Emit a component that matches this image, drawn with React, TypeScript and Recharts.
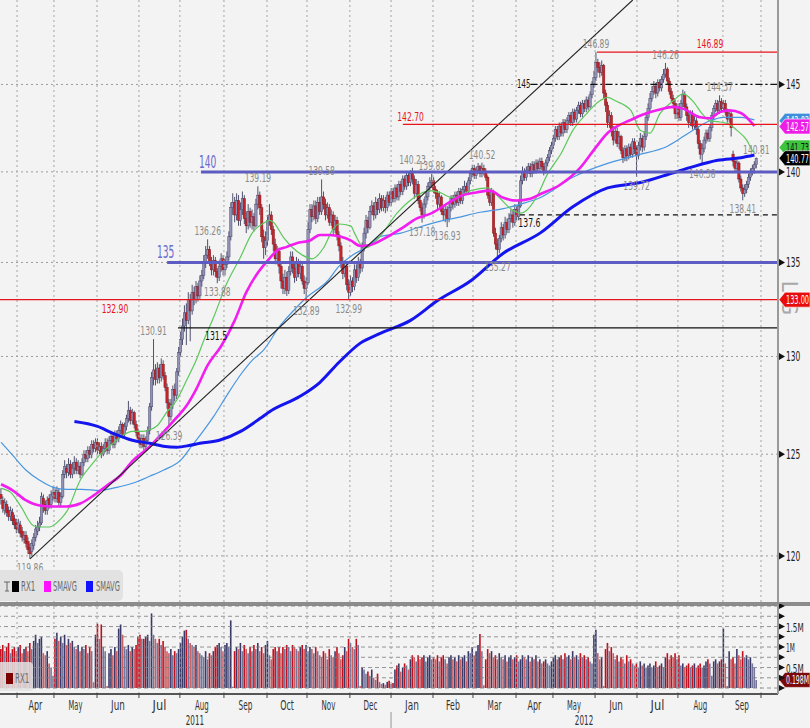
import React from "react";
import {
  ComposedChart,
  Bar,
  Line,
  XAxis,
  YAxis,
  ReferenceLine,
  ReferenceDot,
  Cell,
} from "recharts";

const FONT = '"Liberation Sans Narrow", "Arial Narrow", "DejaVu Sans Condensed", "Liberation Sans", sans-serif';

const W = 810;
const AXIS_W = 32;
const PLOT_R = W - AXIS_W;
const X_MIN = -0.52;
const X_MAX = 402.2;
const PX = PLOT_R / (X_MAX - X_MIN);

// squeeze text to the condensed look of the terminal font
const tl = (s: string, size: number) => s.length * size * 0.34;

// RX1 daily bars (Euro-Bund), Mar 2011 - Sep 2012
const opens = [
  123.0, 122.7, 122.2, 122.5, 122.2, 121.9, 122.1, 121.8, 121.6, 121.3,
  121.5, 121.2, 120.8, 121.0, 120.7, 120.4, 120.2, 120.5, 120.9, 121.2,
  121.4, 121.6, 122.8, 122.5, 122.2, 122.8, 122.5, 122.9, 123.1, 122.8,
  123.1, 122.6, 122.9, 124.0, 124.3, 124.1, 124.5, 124.0, 124.3, 124.6,
  124.2, 124.4, 124.0, 124.6, 125.0, 124.8, 125.2, 125.0, 125.5, 125.3,
  125.6, 125.2, 125.4, 125.0, 125.3, 125.6, 125.2, 125.7, 125.9, 125.5,
  126.0, 125.8, 126.2, 126.5, 126.0, 126.4, 126.8, 127.2, 126.7, 127.1,
  126.5, 126.1, 125.8, 125.5, 125.8, 125.4, 125.7, 126.2, 127.4, 128.9,
  129.3, 128.8, 129.4, 128.9, 129.6, 129.0, 128.4, 127.6, 126.9, 127.5,
  128.3, 128.0, 129.2, 130.2, 130.9, 131.6, 132.3, 131.9, 133.0, 132.4,
  133.4, 133.0, 133.7, 133.2, 134.0, 134.3, 135.0, 135.4, 135.7, 135.0,
  134.6, 135.1, 134.5, 134.2, 134.8, 135.2, 134.6, 134.9, 135.3, 136.4,
  138.0, 138.3, 137.6, 138.4, 137.3, 137.9, 138.5, 137.4, 137.0, 137.8,
  137.2, 137.5, 137.0, 138.2, 138.7, 138.0, 136.4, 135.8, 136.2, 137.3,
  137.6, 136.8, 136.0, 135.2, 135.6, 134.8, 134.0, 133.6, 134.2, 133.5,
  134.5, 135.3, 134.7, 134.2, 135.0, 134.4, 134.8, 134.0, 133.6, 133.9,
  136.8, 137.9, 137.5, 138.1, 137.4, 138.3, 137.8, 138.6, 138.2, 137.6,
  138.0, 137.2, 137.6, 136.8, 137.3, 136.5, 135.9, 135.0, 134.4, 134.8,
  133.8, 133.4, 134.0, 133.7, 134.6, 134.2, 135.0, 134.7, 135.8, 136.6,
  137.3, 136.9, 137.8, 138.1, 137.6, 138.3, 137.9, 138.5, 138.0, 138.4,
  138.0, 138.7, 138.3, 138.9, 138.5, 139.1, 138.6, 139.3, 138.9, 139.6,
  139.2, 139.8, 139.4, 139.9, 139.6, 138.8, 139.3, 138.4, 138.0, 137.6,
  138.2, 138.6, 139.2, 139.4, 139.5, 139.0, 138.8, 138.2, 138.6, 137.8,
  137.6, 137.9, 137.4, 138.0, 138.5, 138.2, 138.7, 138.3, 138.9, 138.4,
  139.0, 139.2, 138.9, 139.5, 139.9, 140.2, 139.8, 140.1, 140.3, 139.9,
  140.2, 140.0, 139.7, 138.7, 138.3, 138.9, 136.6, 136.0, 135.7, 136.3,
  136.9, 136.5, 137.2, 136.8, 137.4, 137.6, 137.2, 137.9, 137.5, 138.1,
  139.5, 140.0, 139.7, 140.1, 140.3, 139.9, 140.4, 140.1, 140.5, 140.2,
  140.6, 140.3, 140.0, 140.5, 140.8, 141.2, 141.5, 141.9, 142.4, 142.0,
  142.6, 142.2, 142.8, 142.4, 142.9, 143.2, 142.8, 143.4, 143.0, 143.5,
  143.8, 143.3, 143.9, 143.6, 144.1, 143.7, 144.4, 145.0, 145.4, 146.3,
  146.0, 145.7, 146.1, 144.5, 143.8, 142.8, 143.2, 142.3, 141.8, 142.3,
  141.6, 142.0, 141.2, 140.8, 141.3, 140.9, 141.4, 141.0, 141.7, 141.3,
  140.9, 141.5, 141.9, 141.4, 142.0, 143.1, 143.6, 144.2, 144.6, 144.9,
  144.5, 145.1, 144.8, 145.3, 145.6, 145.9, 145.2, 144.6, 144.2, 143.9,
  143.3, 143.7, 143.1, 143.9, 144.4, 143.7, 143.2, 142.8, 143.3, 142.6,
  142.9, 142.4, 141.6, 141.0, 141.3, 141.8, 142.2, 141.9, 142.5, 143.2,
  143.6, 143.9, 143.5, 144.0, 143.6, 143.9, 143.4, 143.0, 143.3, 141.0,
  140.6, 140.2, 140.5, 139.6, 139.1, 138.8, 139.0, 139.3, 139.7, 140.0,
  140.2, 140.4,
];

const highs = [
  123.3, 122.9, 122.8, 122.7, 122.4, 122.4, 122.3, 122.0, 121.8, 121.8,
  121.7, 121.4, 121.2, 121.2, 120.9, 120.6, 120.8, 121.1, 121.5, 121.7,
  121.9, 123.1, 123.0, 122.7, 122.9, 123.0, 123.2, 123.4, 123.3, 123.4,
  123.3, 123.1, 124.2, 124.7, 124.5, 124.8, 124.7, 124.6, 124.9, 124.8,
  124.7, 124.6, 124.8, 125.2, 125.2, 125.4, 125.4, 125.7, 125.7, 125.8,
  125.8, 125.6, 125.6, 125.5, 125.8, 125.8, 125.9, 126.1, 126.1, 126.2,
  126.2, 126.4, 126.7, 126.6, 126.6, 127.0, 127.7, 127.4, 127.3, 127.2,
  126.7, 126.3, 126.0, 126.0, 126.0, 125.9, 126.4, 127.6, 129.2, 130.91,
  129.6, 129.7, 129.6, 129.9, 129.8, 129.2, 128.6, 127.8, 127.8, 128.5,
  128.6, 129.4, 130.5, 131.3, 132.0, 132.7, 132.8, 133.4, 133.3, 133.8,
  133.7, 134.0, 133.9, 134.3, 134.6, 135.4, 135.9, 136.26, 135.9, 135.3,
  135.4, 135.3, 134.7, 135.1, 135.5, 135.4, 135.2, 135.6, 136.7, 138.3,
  138.8, 138.6, 138.8, 138.7, 138.3, 138.9, 138.7, 137.8, 138.2, 138.0,
  137.9, 137.7, 138.5, 139.19, 138.9, 138.2, 136.8, 136.7, 137.6, 138.2,
  137.8, 137.0, 136.3, 135.9, 135.8, 135.0, 134.4, 134.6, 134.5, 134.8,
  135.6, 135.6, 135.0, 135.3, 135.2, 135.1, 135.0, 134.3, 134.2, 137.2,
  138.2, 138.2, 138.4, 138.4, 138.6, 138.6, 139.58, 138.9, 138.5, 138.3,
  138.2, 137.9, 137.8, 137.6, 137.5, 136.7, 136.1, 135.3, 135.1, 135.0,
  134.1, 134.3, 134.2, 134.9, 134.9, 135.3, 135.2, 136.1, 136.9, 137.6,
  137.5, 138.1, 138.4, 138.3, 138.6, 138.5, 138.8, 138.7, 138.7, 138.6,
  138.9, 138.9, 139.1, 139.1, 139.3, 139.3, 139.5, 139.5, 139.8, 139.8,
  140.0, 140.0, 140.1, 140.23, 139.8, 139.6, 139.5, 138.7, 138.3, 138.5,
  138.9, 139.4, 139.7, 139.89, 139.7, 139.2, 139.0, 138.9, 138.7, 138.1,
  138.2, 138.1, 138.3, 138.7, 138.7, 138.9, 138.9, 139.1, 139.1, 139.2,
  139.5, 139.4, 139.7, 140.1, 140.4, 140.4, 140.3, 140.5, 140.4, 140.52,
  140.4, 140.2, 139.8, 138.9, 139.1, 139.0, 136.9, 136.3, 136.5, 137.2,
  137.1, 137.5, 137.4, 137.7, 137.9, 137.9, 138.2, 138.1, 138.4, 139.8,
  140.3, 140.2, 140.3, 140.5, 140.5, 140.6, 140.6, 140.7, 140.7, 140.8,
  140.8, 140.5, 140.7, 141.0, 141.4, 141.7, 142.1, 142.6, 142.6, 142.8,
  142.8, 143.0, 143.0, 143.1, 143.4, 143.4, 143.6, 143.6, 143.7, 144.0,
  144.0, 144.1, 144.1, 144.3, 144.3, 144.6, 145.2, 145.8, 146.89, 146.5,
  146.3, 146.4, 146.2, 144.7, 144.0, 143.5, 143.4, 142.6, 142.6, 142.5,
  142.3, 142.1, 141.4, 141.5, 141.5, 141.6, 141.6, 141.9, 141.9, 141.5,
  141.7, 142.2, 142.1, 142.3, 143.4, 143.9, 144.5, 144.9, 145.2, 145.1,
  145.3, 145.3, 145.5, 145.9, 146.26, 146.0, 145.4, 144.8, 144.4, 144.1,
  143.9, 143.9, 144.1, 144.7, 144.6, 143.9, 143.4, 143.5, 143.5, 143.2,
  143.1, 142.6, 141.8, 141.6, 142.0, 142.4, 142.4, 142.7, 143.4, 143.8,
  144.1, 144.1, 144.37, 144.2, 144.1, 144.1, 143.6, 143.5, 143.5, 141.2,
  140.8, 140.7, 140.6, 139.8, 139.3, 139.3, 139.5, 139.9, 140.2, 140.4,
  140.6, 140.81,
];

const lows = [
  122.5, 122.1, 122.0, 121.9, 121.7, 121.7, 121.5, 121.3, 121.1, 121.1,
  120.9, 120.7, 120.6, 120.4, 120.1, 119.86, 120.0, 120.3, 120.7, 121.0,
  121.2, 121.5, 122.1, 122.0, 122.0, 122.3, 122.3, 122.7, 122.6, 122.6,
  122.4, 122.4, 122.8, 123.8, 123.8, 123.9, 123.8, 123.8, 124.0, 124.0,
  124.0, 123.8, 123.9, 124.4, 124.6, 124.6, 124.8, 124.8, 125.1, 125.1,
  125.0, 125.0, 124.8, 124.9, 125.1, 125.0, 125.0, 125.5, 125.3, 125.3,
  125.6, 125.6, 126.0, 125.8, 125.8, 126.2, 126.6, 126.5, 126.5, 126.3,
  125.9, 125.6, 125.3, 125.3, 125.2, 125.2, 125.5, 126.0, 127.2, 128.5,
  128.5, 128.6, 128.6, 128.7, 128.8, 128.2, 127.3, 126.39, 126.7, 127.3,
  127.7, 127.8, 129.0, 130.0, 130.6, 131.3, 130.6, 131.7, 130.8, 132.2,
  132.7, 132.8, 132.9, 133.0, 133.7, 134.1, 134.7, 135.2, 134.8, 134.3,
  134.3, 134.2, 133.88, 134.0, 134.5, 134.3, 134.3, 134.7, 135.1, 136.2,
  137.6, 137.2, 137.3, 137.0, 137.0, 137.6, 137.1, 136.6, 136.8, 136.9,
  136.8, 136.7, 136.9, 137.9, 137.6, 136.1, 135.2, 135.4, 135.9, 137.0,
  136.5, 135.6, 134.9, 134.9, 134.4, 133.6, 133.3, 133.3, 133.2, 133.3,
  134.3, 134.4, 133.9, 134.0, 134.2, 134.1, 133.8, 133.3, 132.89, 133.8,
  136.6, 137.2, 137.3, 137.1, 137.2, 137.6, 137.6, 137.9, 137.3, 137.4,
  137.0, 137.0, 136.5, 136.6, 136.2, 135.6, 134.7, 134.1, 134.2, 133.5,
  132.99, 133.2, 133.4, 133.5, 133.9, 134.0, 134.4, 134.5, 135.6, 136.3,
  136.6, 136.8, 137.6, 137.3, 137.4, 137.6, 137.7, 137.8, 137.8, 137.7,
  137.8, 138.1, 138.1, 138.3, 138.3, 138.4, 138.4, 138.7, 138.7, 139.0,
  139.0, 139.2, 139.2, 139.3, 138.5, 138.6, 138.2, 137.8, 137.18, 137.4,
  138.0, 138.4, 138.9, 139.1, 138.8, 138.5, 137.9, 138.0, 137.6, 137.3,
  137.2, 136.93, 137.2, 137.8, 137.9, 138.0, 138.1, 138.1, 138.2, 138.2,
  138.8, 138.7, 138.7, 139.3, 139.7, 139.6, 139.6, 139.9, 139.7, 139.7,
  139.8, 139.5, 138.5, 138.1, 138.1, 136.4, 135.7, 135.27, 135.5, 136.1,
  136.2, 136.3, 136.6, 136.6, 137.2, 136.9, 137.0, 137.3, 137.3, 138.0,
  139.3, 139.5, 139.5, 139.9, 139.7, 139.7, 139.9, 139.9, 140.0, 140.0,
  140.1, 139.8, 139.9, 140.3, 140.6, 141.0, 141.3, 141.7, 141.8, 141.8,
  142.0, 142.0, 142.2, 142.2, 142.7, 142.6, 142.6, 142.8, 142.8, 143.3,
  143.1, 143.1, 143.4, 143.4, 143.5, 143.6, 144.2, 144.8, 145.2, 145.7,
  145.4, 145.5, 144.2, 143.4, 142.5, 142.5, 142.0, 141.5, 141.6, 141.4,
  141.3, 141.0, 140.5, 140.6, 140.6, 140.7, 140.8, 140.8, 141.0, 139.72,
  140.7, 141.2, 141.1, 141.2, 141.8, 142.9, 143.4, 144.0, 144.4, 144.2,
  144.3, 144.6, 144.6, 145.1, 145.4, 145.0, 144.4, 144.0, 143.6, 143.0,
  143.0, 142.9, 142.9, 143.7, 143.5, 142.9, 142.5, 142.6, 142.4, 142.4,
  142.1, 141.3, 140.7, 140.38, 141.1, 141.6, 141.7, 141.7, 142.3, 143.0,
  143.4, 143.3, 143.3, 143.4, 143.4, 143.2, 142.8, 142.8, 142.0, 140.3,
  140.0, 140.0, 139.4, 138.9, 138.41, 138.6, 138.8, 139.1, 139.5, 139.8,
  139.9, 140.2,
];

const closes = [
  122.8, 122.3, 122.6, 122.1, 121.9, 122.2, 121.7, 121.5, 121.3, 121.6,
  121.1, 120.9, 121.0, 120.6, 120.3, 120.1, 120.6, 120.9, 121.3, 121.4,
  121.6, 122.9, 122.4, 122.2, 122.7, 122.5, 123.0, 123.1, 122.8, 123.2,
  122.6, 122.9, 124.0, 124.4, 124.1, 124.5, 124.0, 124.3, 124.6, 124.2,
  124.4, 124.0, 124.6, 125.0, 124.8, 125.2, 125.0, 125.5, 125.3, 125.6,
  125.2, 125.4, 125.0, 125.3, 125.6, 125.2, 125.7, 125.9, 125.5, 126.0,
  125.8, 126.2, 126.5, 126.0, 126.4, 126.8, 127.2, 126.7, 127.1, 126.5,
  126.1, 125.8, 125.5, 125.8, 125.4, 125.7, 126.2, 127.4, 128.9, 129.3,
  128.8, 129.4, 128.9, 129.6, 129.0, 128.4, 127.6, 126.9, 127.5, 128.3,
  128.0, 129.2, 130.2, 130.9, 131.6, 132.3, 131.9, 133.0, 132.4, 133.4,
  133.0, 133.7, 133.2, 134.0, 134.3, 135.0, 135.4, 135.7, 135.0, 134.6,
  135.1, 134.5, 134.2, 134.8, 135.2, 134.6, 134.9, 135.3, 136.4, 138.0,
  138.3, 137.6, 138.4, 137.3, 137.9, 138.5, 137.4, 137.0, 137.8, 137.2,
  137.5, 137.0, 138.2, 138.7, 138.0, 136.4, 135.8, 136.2, 137.3, 137.6,
  136.8, 136.0, 135.2, 135.6, 134.8, 134.0, 133.6, 134.2, 133.5, 134.5,
  135.3, 134.7, 134.2, 135.0, 134.4, 134.8, 134.0, 133.6, 133.9, 136.8,
  137.9, 137.5, 138.1, 137.4, 138.3, 137.8, 138.6, 138.2, 137.6, 138.0,
  137.2, 137.6, 136.8, 137.3, 136.5, 135.9, 135.0, 134.4, 134.8, 133.8,
  133.4, 134.0, 133.7, 134.6, 134.2, 135.0, 134.7, 135.8, 136.6, 137.3,
  136.9, 137.8, 138.1, 137.6, 138.3, 137.9, 138.5, 138.0, 138.4, 138.0,
  138.7, 138.3, 138.9, 138.5, 139.1, 138.6, 139.3, 138.9, 139.6, 139.2,
  139.8, 139.4, 139.9, 139.6, 138.8, 139.3, 138.4, 138.0, 137.6, 138.2,
  138.6, 139.2, 139.4, 139.5, 139.0, 138.8, 138.2, 138.6, 137.8, 137.6,
  137.9, 137.4, 138.0, 138.5, 138.2, 138.7, 138.3, 138.9, 138.4, 139.0,
  139.2, 138.9, 139.5, 139.9, 140.2, 139.8, 140.1, 140.3, 139.9, 140.2,
  140.0, 139.7, 138.7, 138.3, 138.9, 136.6, 136.0, 135.7, 136.3, 136.9,
  136.5, 137.2, 136.8, 137.4, 137.6, 137.2, 137.9, 137.5, 138.1, 139.5,
  140.0, 139.7, 140.1, 140.3, 139.9, 140.4, 140.1, 140.5, 140.2, 140.6,
  140.3, 140.0, 140.5, 140.8, 141.2, 141.5, 141.9, 142.4, 142.0, 142.6,
  142.2, 142.8, 142.4, 142.9, 143.2, 142.8, 143.4, 143.0, 143.5, 143.8,
  143.3, 143.9, 143.6, 144.1, 143.7, 144.4, 145.0, 145.4, 146.3, 146.0,
  145.7, 146.1, 144.5, 143.8, 142.8, 143.2, 142.3, 141.8, 142.3, 141.6,
  142.0, 141.2, 140.8, 141.3, 140.9, 141.4, 141.0, 141.7, 141.3, 140.9,
  141.5, 141.9, 141.4, 142.0, 143.1, 143.6, 144.2, 144.6, 144.9, 144.5,
  145.1, 144.8, 145.3, 145.6, 145.9, 145.2, 144.6, 144.2, 143.9, 143.3,
  143.7, 143.1, 143.9, 144.4, 143.7, 143.2, 142.8, 143.3, 142.6, 142.9,
  142.4, 141.6, 141.0, 141.3, 141.8, 142.2, 141.9, 142.5, 143.2, 143.6,
  143.9, 143.5, 144.0, 143.6, 143.9, 143.4, 143.0, 143.3, 142.5, 140.6,
  140.2, 140.5, 139.6, 139.1, 138.8, 139.0, 139.3, 139.7, 140.0, 140.2,
  140.4, 140.77,
];

// volume, millions of contracts
const volumes = [
  0.95, 1.05, 0.9, 1.0, 1.1, 0.85, 0.95, 1.0, 0.9,
  1.0, 1.05, 0.85, 0.95, 1.0, 0.9, 1.1, 0.95,
  1.15, 1.3, 1.1, 1.2, 1.25, 0.85,
  0.8, 0.9, 0.6, 0.5, 0.3,
  1.2, 1.35, 1.15, 1.25, 1.1, 1.3, 1.05, 1.2, 1.1, 1.15, 1.0,
  0.95, 1.05, 0.9, 1.0, 0.95, 1.05, 0.85, 1.0, 0.9, 0.14,
  1.3, 1.57, 1.2, 1.55, 1.0, 0.9,
  0.05, 0.85, 0.95, 0.8, 1.0, 0.9,
  1.45, 1.55, 1.3,
  1.0, 0.95, 1.05, 0.9, 1.0, 0.95, 1.05,
  1.25, 1.3, 1.2,
  1.2, 1.25, 1.3, 1.15, 1.82, 1.3, 1.2,
  1.1, 1.2, 1.05, 1.15, 1.0, 0.9,
  0.85, 0.95, 0.8, 0.9, 0.85, 0.95, 1.1,
  1.25, 1.4, 1.42, 1.2, 1.1,
  1.05, 1.0, 1.05, 0.9, 0.85,
  0.8, 0.75, 0.9, 0.7, 0.85, 0.8, 0.9, 1.0,
  1.05, 1.1, 1.0, 0.9, 1.05, 1.1, 1.0, 1.65,
  0.03,
  0.9, 1.0, 0.95, 1.1, 0.9, 1.05, 0.95, 0.85, 1.0, 0.9, 1.05, 0.95, 1.1, 0.9, 1.0, 0.85, 1.05, 1.15,
  0.8, 0.7, 0.95, 1.0, 0.9, 1.0, 0.85,
  1.0, 0.95, 1.05, 1.0, 0.9, 1.05, 1.0, 0.95, 0.9, 1.0, 1.05, 0.95,
  1.05, 0.9, 1.0, 0.95, 0.85, 1.0, 0.9, 0.8, 0.75,
  0.9, 0.85, 0.7, 0.95, 0.8, 0.75, 0.9, 1.0, 0.85, 0.7, 0.8,
  1.0, 0.9, 1.2, 1.1, 1.0, 0.95, 1.2, 1.05,
  0.05,
  0.5, 0.45, 0.35, 0.4, 0.3, 0.45, 0.25, 0.2, 0.35,
  0.15, 0.1, 0.12, 0.08, 0.15, 0.18, 0.1, 0.12,
  0.45, 0.55, 0.6, 0.4, 0.5, 0.6, 0.55, 0.45,
  0.7, 0.8, 0.75, 0.65, 0.8, 0.7, 0.75, 0.8, 0.65, 0.75, 0.8, 0.7,
  0.75, 0.7, 0.8, 0.65, 0.75, 0.8, 0.7, 0.6, 0.75, 0.8, 0.7,
  0.75, 0.65, 0.8, 0.7, 0.75, 0.8, 0.65, 0.9, 0.85,
  1.0, 0.8, 0.9, 1.05, 1.32,
  0.9, 0.07,
  0.7, 0.95, 0.85, 0.9, 0.75, 0.8, 0.7, 0.85,
  0.75, 0.7, 0.8, 0.65, 0.75, 0.8, 0.7, 0.75, 0.8, 0.65, 0.7, 0.8, 0.75, 0.7, 0.8, 0.65, 0.75, 0.7, 0.8,
  0.65, 0.7, 0.6, 0.65, 0.7, 0.6, 0.55, 0.65,
  0.75, 0.8, 0.7, 0.75, 0.8, 0.7, 0.85, 0.75, 0.8, 0.7, 0.9,
  0.75, 0.8, 0.7, 0.85, 0.75, 0.8, 0.7, 0.75,
  0.65, 0.6,
  1.3, 1.42,
  0.85, 0.7, 0.75,
  0.05,
  0.95, 1.1, 0.9, 1.0, 0.85,
  0.7, 0.8, 0.65, 0.75, 0.7, 0.6, 0.8, 0.65, 0.7, 0.6,
  0.55, 0.6, 0.5, 0.65, 0.55, 0.6, 0.5, 0.55, 0.6, 0.5, 0.55, 0.65, 0.5, 0.55, 0.6, 0.5,
  0.75, 0.85, 0.7, 0.8, 0.75, 0.85, 0.7, 0.8,
  0.55, 0.6, 0.5, 0.55, 0.6, 0.5, 0.55, 0.6, 0.5, 0.55, 0.6, 0.5, 0.55,
  0.65, 0.7, 0.6, 0.3, 0.65, 0.7, 0.6, 0.65, 0.7,
  1.45, 0.6, 0.05,
  0.9, 0.7, 0.75, 0.6, 0.95, 0.8, 0.7, 0.9, 0.75, 0.8, 0.7, 0.75, 0.6,
  0.5, 0.198,
];

// moving averages as [bar, value]
const smaGreen: [number, number][] = [
  [0, 123.3], [5, 123.1], [10, 122.45], [17, 121.45], [20, 121.4], [25, 121.4], [31, 121.8],
  [34, 122.15], [41, 123.7], [48, 124.6], [51, 124.95], [58, 125.55], [63, 125.95], [68, 126.15],
  [73, 126.15], [76, 126.2], [81, 126.45], [86, 127.15], [91, 127.75], [96, 128.75], [101, 129.8],
  [105, 130.85], [110, 132.05], [117, 133.9], [124, 135.3], [130, 136.6], [136, 137.15], [139, 137.3],
  [141, 137.2], [146, 136.4], [151, 135.8], [156, 135.4], [161, 135.2], [167, 135.8], [172, 136.85],
  [175, 137.1], [181, 137.0], [183, 136.6], [186, 136.0], [189, 135.8], [196, 136.4], [205, 137.7],
  [213, 138.5], [222, 138.95], [227, 138.85], [234, 138.55], [243, 138.95], [252, 139.1], [258, 138.55],
  [265, 137.85], [269, 137.7], [272, 137.85], [277, 138.55], [283, 139.9], [290, 141.05], [296, 142.35],
  [303, 143.3], [310, 144.05], [314, 144.25], [318, 144.05], [326, 143.5], [331, 142.35], [336, 142.2],
  [341, 143.3], [348, 144.05], [353, 144.45], [358, 144.05], [363, 143.3], [367, 142.9], [371, 142.85],
  [376, 142.75], [381, 142.35], [386, 141.8], [389, 141.2], [390, 141.1],
];

const smaMagenta: [number, number][] = [
  [0, 123.5], [6, 123.2], [13, 122.7], [20, 122.45], [27, 122.4], [34, 122.4], [41, 122.55],
  [48, 122.95], [55, 123.45], [62, 123.95], [68, 124.65], [76, 125.3], [82, 125.9], [89, 126.65],
  [96, 127.45], [101, 128.3], [107, 129.55], [114, 130.55], [121, 131.9], [127, 133.4], [132, 134.3],
  [138, 135.1], [143, 135.65], [148, 135.85], [153, 136.05], [160, 136.2], [165, 136.5], [170, 136.5],
  [176, 136.4], [181, 136.2], [186, 135.9], [191, 135.95], [200, 136.4], [208, 136.9], [215, 137.4],
  [223, 137.7], [232, 138.3], [239, 138.7], [246, 138.85], [253, 138.95], [260, 138.55], [267, 138.4],
  [274, 138.5], [279, 138.75], [289, 139.25], [300, 140.25], [308, 141.4], [314, 142.2], [320, 142.65],
  [325, 142.9], [332, 143.25], [341, 143.55], [348, 143.7], [353, 143.6], [362, 143.1], [367, 143.05],
  [372, 143.4], [377, 143.5], [383, 143.35], [390, 142.6],
];

const smaLightBlue: [number, number][] = [
  [0, 125.6], [6, 124.95], [13, 124.2], [20, 123.7], [27, 123.35], [34, 123.25], [42, 123.25],
  [51, 123.2], [60, 123.35], [68, 123.55], [77, 123.9], [84, 124.2], [93, 124.7], [99, 125.45],
  [103, 125.95], [110, 126.9], [117, 128.0], [124, 129.05], [130, 129.8], [136, 130.35], [144, 131.55],
  [151, 132.37], [158, 133.1], [169, 134.0], [175, 134.8], [182, 135.4], [191, 135.95], [196, 136.4],
  [207, 136.6], [217, 136.95], [227, 137.25], [236, 137.45], [248, 137.75], [260, 137.95], [269, 138.2],
  [279, 138.55], [296, 139.7], [314, 140.48], [329, 140.93], [345, 141.45], [358, 142.35], [367, 142.9],
  [374, 143.1], [383, 143.1], [390, 142.95],
];

const smaBlue: [number, number][] = [
  [38, 126.65], [50, 126.4], [58, 126.05], [68, 125.7], [77, 125.55], [84, 125.4], [91, 125.35],
  [98, 125.45], [103, 125.55], [113, 125.7], [124, 126.15], [134, 126.8], [139, 127.15], [155, 127.95],
  [165, 128.65], [175, 129.7], [186, 130.7], [196, 131.2], [212, 131.9], [226, 132.95], [243, 134.0],
  [260, 135.5], [279, 136.6], [296, 138.05], [314, 139.1], [331, 139.4], [348, 139.95], [357, 140.25],
  [371, 140.65], [383, 140.8], [390, 140.95],
];

const monthStarts = [8.3, 27.4, 49.7, 71.4, 92.6, 115.4, 137.7, 158.4, 180.6, 201.9, 223.6, 244.3, 266.6, 285.7, 307.5, 329.2, 350.4, 373.7, 393.4];
const monthLabels = ["Apr", "May", "Jun", "Jul", "Aug", "Sep", "Oct", "Nov", "Dec", "Jan", "Feb", "Mar", "Apr", "May", "Jun", "Jul", "Aug", "Sep"];
const yearLabels = ["2011", "2012"];
const yearCenters = [100.4, 301.8];
const yearBreak = 201.9;

const priceTicks = [120, 125, 130, 135, 140, 145];
const volTicks = [0, 0.25, 0.5, 0.75, 1, 1.25, 1.5, 1.75, 2];
const volLabels: Record<number, string> = { 0.5: "0.5M", 1: "1M", 1.5: "1.5M" };

const peaks = [
  { i: 15, p: 119.86, t: "119.86", below: true },
  { i: 79, p: 130.91, t: "130.91", below: false },
  { i: 87, p: 126.39, t: "126.39", below: true },
  { i: 107, p: 136.26, t: "136.26", below: false },
  { i: 112, p: 133.88, t: "133.88", below: true },
  { i: 133, p: 139.19, t: "139.19", below: false },
  { i: 158, p: 132.89, t: "132.89", below: true },
  { i: 166, p: 139.58, t: "139.58", below: false },
  { i: 180, p: 132.99, t: "132.99", below: true },
  { i: 213, p: 140.23, t: "140.23", below: false },
  { i: 218, p: 137.18, t: "137.18", below: true },
  { i: 223, p: 139.89, t: "139.89", below: false },
  { i: 231, p: 136.93, t: "136.93", below: true },
  { i: 249, p: 140.52, t: "140.52", below: false },
  { i: 257, p: 135.27, t: "135.27", below: true },
  { i: 308, p: 146.89, t: "146.89", below: false },
  { i: 329, p: 139.72, t: "139.72", below: true },
  { i: 344, p: 146.26, t: "146.26", below: false },
  { i: 363, p: 140.38, t: "140.38", below: true },
  { i: 372, p: 144.37, t: "144.37", below: false },
  { i: 384, p: 138.41, t: "138.41", below: true },
  { i: 391, p: 140.81, t: "140.81", below: false },
];

// drawn support / resistance levels
const levels = [
  { p: 146.89, from: 308.5, color: "#e8141c", w: 1.3, dash: undefined as string | undefined },
  { p: 145, from: 274, color: "#111", w: 1.3, dash: "7 3 2 3" },
  { p: 142.7, from: 208, color: "#e8141c", w: 1.3, dash: undefined },
  { p: 140, from: 103.5, color: "#5c5cc2", w: 3, dash: undefined },
  { p: 137.6, from: 268.6, color: "#111", w: 1.3, dash: "5 4" },
  { p: 135, from: 86, color: "#5c5cc2", w: 3, dash: undefined },
  { p: 133, from: X_MIN, color: "#e8141c", w: 1.3, dash: undefined },
  { p: 131.5, from: 91.6, color: "#111", w: 1.3, dash: undefined },
];

const levelTexts = [
  { i: 367, p: 146.89, t: "146.89", color: "#e8141c", size: 13, dy: -4, anchor: "middle" },
  { i: 274, p: 145, t: "145", color: "#111", size: 13, dy: 4, anchor: "end" },
  { i: 212, p: 142.7, t: "142.70", color: "#e8141c", size: 13, dy: -3, anchor: "middle" },
  { i: 102.5, p: 140, t: "140", color: "#6a6ad0", size: 17, dy: -4, anchor: "start" },
  { i: 273.5, p: 137.6, t: "137.6", color: "#111", size: 13, dy: 12, anchor: "middle" },
  { i: 80.7, p: 135, t: "135", color: "#6a6ad0", size: 17, dy: -4, anchor: "start" },
  { i: 59, p: 133, t: "132.90", color: "#e8141c", size: 13, dy: 13, anchor: "middle" },
  { i: 111.3, p: 131.5, t: "131.5", color: "#111", size: 13, dy: 12, anchor: "middle" },
];

const trendStart = { i: 15, p: 119.86 };
const trendEnd = { i: 327, p: 150 };

const axisTags = [
  { p: 142.9, t: "143.03", fill: "#3f8fdc", color: "#fff" },
  { p: 142.57, t: "142.57", fill: "#ec1ee6", color: "#fff" },
  { p: 141.38, t: "141.73", fill: "#3cc43c", color: "#111" },
  { p: 140.77, t: "140.77", fill: "#000", color: "#fff" },
  { p: 133.0, t: "133.00", fill: "#e80c0c", color: "#fff" },
];
const volTag = { v: 0.198, t: "0.198M" };

const toMap = (pts: [number, number][]) => new Map(pts.map(([i, v]) => [i, v]));
const gMap = toMap(smaGreen);
const mMap = toMap(smaMagenta);
const lbMap = toMap(smaLightBlue);
const bMap = toMap(smaBlue);

const rows = closes.map((c, i) => ({
  i,
  o: opens[i],
  h: highs[i],
  l: lows[i],
  c,
  range: [lows[i], highs[i]],
  vol: volumes[i] ?? 0,
  g: gMap.get(i) ?? null,
  m: mMap.get(i) ?? null,
  lb: lbMap.get(i) ?? null,
  b: bMap.get(i) ?? null,
}));

const volColor = (i: number) => {
  const r = rows[i];
  const up = r.c >= r.o;
  const rising = i === 0 || r.vol >= rows[i - 1].vol;
  if (up) return rising ? "#3a3a6a" : "#76769c";
  return rising ? "#c20f1d" : "#c95e63";
};

const Candle = (props: any) => {
  const { x, y, width, height, payload } = props;
  if (!payload || height == null) return null;
  const top = height < 0 ? y + height : y;
  const hh = Math.abs(height);
  const { o, h, l, c } = payload;
  const lh = Math.log(h);
  const span = lh - Math.log(l) || 1;
  const py = (v: number) => top + ((lh - Math.log(v)) / span) * hh;
  const cx = x + width / 2;
  const b1 = py(Math.max(o, c));
  const b2 = py(Math.min(o, c));
  const up = c >= o;
  return (
    <g>
      <line x1={cx} x2={cx} y1={top} y2={top + hh} stroke="#3e3e5e" strokeWidth={0.9} />
      <rect
        x={cx - 1.2}
        y={b1}
        width={2.4}
        height={Math.max(b2 - b1, 0.8)}
        fill={up ? "#9292b6" : "#c4242c"}
        stroke={up ? "#44446a" : "#861618"}
        strokeWidth={0.45}
      />
    </g>
  );
};

const NText = ({ x, y, t, size, fill, anchor = "start" }: any) => (
  <text
    x={x}
    y={y}
    textAnchor={anchor}
    fontSize={size}
    fill={fill}
    fontFamily={FONT}
    textLength={tl(t, size)}
    lengthAdjust="spacingAndGlyphs"
  >
    {t}
  </text>
);

const PriceTick = (props: any) => {
  const { y, payload } = props;
  return (
    <g>
      <path d={`M${PLOT_R + 1},${y - 3.5} L${PLOT_R + 7},${y} L${PLOT_R + 1},${y + 3.5} Z`} fill="#111" />
      <NText x={PLOT_R + 8} y={y + 5} t={String(payload.value)} size={14} fill="#222" />
    </g>
  );
};

const VolTick = (props: any) => {
  const { y, payload } = props;
  const label = volLabels[payload.value];
  return (
    <g>
      <path d={`M${PLOT_R + 1},${y - 3} L${PLOT_R + 7},${y} L${PLOT_R + 1},${y + 3} Z`} fill="#111" />
      {label && <NText x={PLOT_R + 8} y={y + 5} t={label} size={13} fill="#222" />}
    </g>
  );
};

const MonthTick = (props: any) => {
  const { x, payload } = props;
  const v = payload.value;
  const k = monthStarts.indexOf(v);
  const axisY = 90;
  const label = monthLabels[k];
  const next = monthStarts[k + 1];
  return (
    <g>
      <line x1={x} x2={x} y1={axisY} y2={axisY + 4} stroke="#444" strokeWidth={1} />
      {v === yearBreak && <line x1={x} x2={x} y1={axisY + 18} y2={axisY + 36} stroke="#b4b4b4" strokeWidth={1.5} />}
      {label && next != null && (
        <NText x={x + ((next - v) / 2) * PX} y={axisY + 16} anchor="middle" t={label} size={13.5} fill="#333" />
      )}
      {k === 0 &&
        yearLabels.map((yl, j) => (
          <NText key={yl} x={x + (yearCenters[j] - v) * PX} y={axisY + 31} anchor="middle" t={yl} size={13.5} fill="#333" />
        ))}
    </g>
  );
};

const Tag = ({ cx, cy, fill, color, text }: any) => (
  <g>
    <path d={`M${cx + 1},${cy} L${cx + 7},${cy - 7.5} H${W} V${cy + 7.5} H${cx + 7} Z`} fill={fill} stroke="#fff" strokeWidth={0.6} />
    <text x={cx + 8} y={cy + 4.5} fontSize={13} fill={color} fontFamily={FONT} textLength={23} lengthAdjust="spacingAndGlyphs">
      {text}
    </text>
  </g>
);

const lineProps = { dot: false, activeDot: false, connectNulls: true, type: "monotone" as const, isAnimationActive: false, legendType: "none" as const };

export default function App() {
  return (
    <div style={{ position: "absolute", left: 0, top: 0, width: W, height: 728, background: "#f3f3f3", overflow: "hidden" }}>
      <div
        style={{
          position: "absolute",
          left: 789,
          top: 302,
          transform: "translate(-50%, -50%) rotate(90deg)",
          fontFamily: FONT,
          fontSize: 22,
          letterSpacing: 8,
          color: "#a8a8a8",
          whiteSpace: "nowrap",
        }}
      >
        LG
      </div>

      <ComposedChart width={W} height={602} data={rows} margin={{ top: 0, right: 0, bottom: 0, left: 0 }}>
        <XAxis dataKey="i" type="number" domain={[X_MIN, X_MAX]} allowDataOverflow hide />
        <YAxis
          orientation="right"
          scale="log"
          domain={[117.8, 150]}
          allowDataOverflow
          ticks={priceTicks}
          interval={0}
          width={AXIS_W}
          axisLine={{ stroke: "#9a9a9a", strokeWidth: 2 }}
          tickLine={false}
          tick={(p: any) => <PriceTick {...p} />}
        />
        {priceTicks.map((t) => (
          <ReferenceLine key={"h" + t} y={t} stroke="#9c9c9c" strokeDasharray="2 3" />
        ))}
        {monthStarts.map((m) => (
          <ReferenceLine key={"v" + m} x={m} stroke="#a4a4a4" strokeDasharray="2 3" />
        ))}
        <Bar dataKey="range" barSize={2} isAnimationActive={false} shape={(p: any) => <Candle {...p} />} />
        <Line dataKey="lb" stroke="#4a96e0" strokeWidth={1.2} {...lineProps} />
        <Line dataKey="g" stroke="#5cc85c" strokeWidth={1.2} {...lineProps} />
        <Line dataKey="m" stroke="#f21ef0" strokeWidth={2.6} {...lineProps} />
        <Line dataKey="b" stroke="#1414ee" strokeWidth={3} {...lineProps} />
        <ReferenceLine
          segment={[
            { x: trendStart.i, y: trendStart.p },
            { x: trendEnd.i, y: trendEnd.p },
          ]}
          stroke="#222"
          strokeWidth={1.1}
        />
        {levels.map((lv) => (
          <ReferenceLine
            key={"l" + lv.p}
            segment={[
              { x: lv.from, y: lv.p },
              { x: X_MAX, y: lv.p },
            ]}
            stroke={lv.color}
            strokeWidth={lv.w}
            strokeDasharray={lv.dash}
          />
        ))}
        {levelTexts.map((lt) => (
          <ReferenceDot
            key={"t" + lt.t}
            x={lt.i}
            y={lt.p}
            r={0}
            ifOverflow="visible"
            shape={(p: any) => <NText x={p.cx} y={p.cy + lt.dy} anchor={lt.anchor} t={lt.t} size={lt.size} fill={lt.color} />}
          />
        ))}
        {peaks.map((pk) => (
          <ReferenceDot
            key={"p" + pk.t}
            x={pk.i}
            y={pk.p}
            r={0}
            ifOverflow="visible"
            shape={(p: any) => <NText x={p.cx} y={p.cy + (pk.below ? 13 : -4)} anchor="middle" t={pk.t} size={13} fill="#8a8a8a" />}
          />
        ))}
        {axisTags.map((tg) => (
          <ReferenceDot
            key={"g" + tg.t}
            x={X_MAX}
            y={tg.p}
            r={0}
            ifOverflow="visible"
            shape={(p: any) => <Tag cx={p.cx} cy={p.cy} fill={tg.fill} color={tg.color} text={tg.t} />}
          />
        ))}
      </ComposedChart>

      <div style={{ position: "absolute", left: 0, top: 602, width: W, height: 4, background: "#8c8c8c" }} />

      <div style={{ position: "absolute", left: 0, top: 604 }}>
        <ComposedChart width={W} height={124} data={rows} margin={{ top: 0, right: 0, bottom: 0, left: 0 }}>
          <XAxis
            dataKey="i"
            type="number"
            domain={[X_MIN, X_MAX]}
            allowDataOverflow
            ticks={monthStarts}
            interval={0}
            height={34}
            axisLine={{ stroke: "#222", strokeWidth: 1.5 }}
            tickLine={false}
            tick={(p: any) => <MonthTick {...p} />}
          />
          <YAxis
            orientation="right"
            domain={[-0.146, 2.05]}
            allowDataOverflow
            ticks={volTicks}
            interval={0}
            width={AXIS_W}
            axisLine={{ stroke: "#9a9a9a", strokeWidth: 2 }}
            tickLine={false}
            tick={(p: any) => <VolTick {...p} />}
          />
          {volTicks.map((t) => (
            <ReferenceLine key={"vh" + t} y={t} stroke="#7c7c7c" strokeDasharray="4 3" strokeWidth={0.8} />
          ))}
          {monthStarts.map((m) => (
            <ReferenceLine key={"vv" + m} x={m} stroke="#a4a4a4" strokeDasharray="2 3" />
          ))}
          <Bar dataKey="vol" barSize={1.6} isAnimationActive={false}>
            {rows.map((r) => (
              <Cell key={r.i} fill={volColor(r.i)} />
            ))}
          </Bar>
          <ReferenceDot
            x={X_MAX}
            y={volTag.v}
            r={0}
            ifOverflow="visible"
            shape={(p: any) => <Tag cx={p.cx} cy={p.cy} fill="#7c0a0a" color="#fff" text={volTag.t} />}
          />
        </ComposedChart>
      </div>

      <div style={{ position: "absolute", left: 0, top: 570, width: 123, height: 31, background: "#e2e2e2", borderRadius: "0 5px 5px 0" }}>
        <svg width={123} height={31} style={{ position: "absolute", left: 0, top: 0 }}>
          <path d="M4,12 H10 M7,12 V21 M5,21 H9" stroke="#666" strokeWidth={1} fill="none" />
          <rect x={12} y={11} width={7} height={11} fill="#000" />
          <rect x={44} y={11} width={7} height={11} fill="#ff10ff" />
          <rect x={86} y={11} width={7} height={11} fill="#1010ff" />
          <NText x={21} y={21} t="RX1" size={14} fill="#6a6a6a" />
          <NText x={53} y={21} t="SMAVG" size={14} fill="#6a6a6a" />
          <NText x={96} y={21} t="SMAVG" size={14} fill="#6a6a6a" />
        </svg>
      </div>

      <div style={{ position: "absolute", left: 0, top: 662, width: 33, height: 29, background: "rgba(226,226,226,0.85)", borderRadius: "0 4px 4px 0" }}>
        <svg width={33} height={29} style={{ position: "absolute", left: 0, top: 0 }}>
          <rect x={6} y={11} width={7} height={11} fill="#7c0000" />
          <NText x={15} y={21} t="RX1" size={14} fill="#6a6a6a" />
        </svg>
      </div>
    </div>
  );
}
